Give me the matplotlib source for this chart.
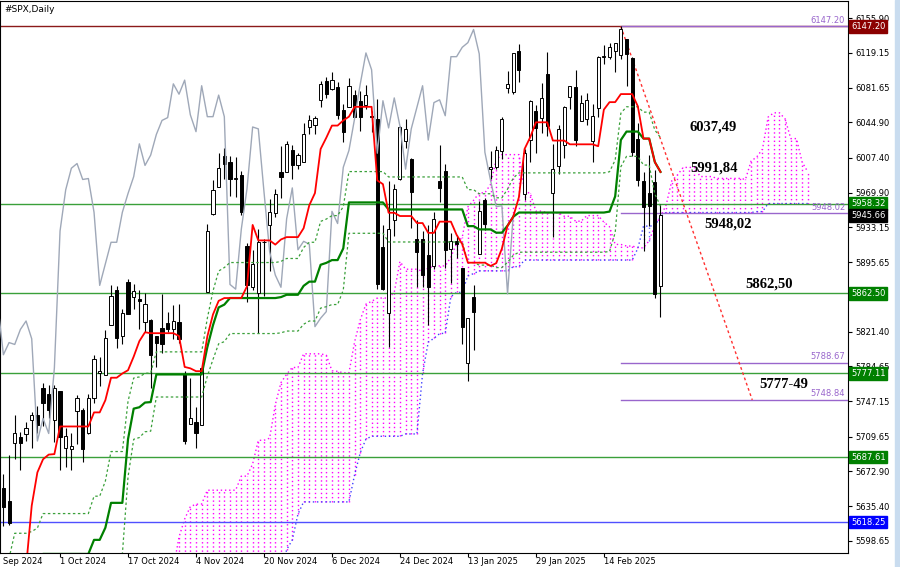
import numpy as np
import pandas as pd
import matplotlib
matplotlib.use("Agg")
import matplotlib.pyplot as plt
from matplotlib.transforms import blended_transform_factory

# daily bars of #SPX, 10 Jul 2024 .. 28 Feb 2025 (CFD also has bars on Sep 2, Nov 28, Jan 9, Jan 20, Feb 17)
opens = [5591, 5635, 5590, 5638, 5644, 5610, 5600, 5543, 5544, 5566, 5505, 5429, 5434, 5477, 5479, 5505,  # Jul
         5537, 5376, 5151, 5206, 5293, 5252, 5312, 5350, 5376, 5442, 5500, 5530, 5557, 5602, 5603, 5637, 5603, 5639, 5602, 5624, 5607, 5612,  # Aug
         5648, 5623, 5506, 5520, 5507, 5442, 5490, 5496, 5558, 5605, 5615, 5655, 5641, 5703, 5709, 5712, 5727, 5733, 5762, 5755, 5727,  # Sep
         5758, 5698, 5696, 5737, 5738, 5714, 5751, 5778, 5775, 5829, 5866, 5817, 5875, 5859, 5857, 5832, 5834, 5817, 5826, 5831, 5824, 5832, 5776,  # Oct
         5723, 5725, 5722, 5864, 5947, 5976, 6009, 6003, 5985, 5989, 5913, 5869, 5863, 5917, 5935, 5948, 5992, 5992, 6015, 5999, 6003,  # Nov
         6040, 6042, 6069, 6089, 6081, 6083, 6058, 6061, 6074, 6068, 6063, 6052, 6048, 5912, 5842, 5941, 5985, 6025, 6006, 5921, 5920,  # Dec
         5903, 5892, 5982, 5993, 5910, 5918, 5890, 5788, 5859, 5905, 5962, 5995, 5997, 6014, 6082, 6077, 6121, 5969, 6026, 6057, 6050, 6096,  # Jan
         5970, 5998, 6021, 6072, 6083, 6046, 6049, 6025, 6060, 6115, 6115, 6121, 6117, 6134, 6114, 6027, 5982, 5970, 5981, 5870]  # Feb
highs = [5635, 5642, 5655, 5667, 5670, 5622, 5614, 5557, 5570, 5585, 5508, 5492, 5488, 5487, 5489, 5551,
         5566, 5383, 5250, 5312, 5330, 5328, 5351, 5372, 5436, 5463, 5546, 5564, 5608, 5620, 5633, 5643, 5641, 5651, 5631, 5628, 5646, 5651,
         5655, 5623, 5552, 5546, 5522, 5484, 5497, 5560, 5600, 5636, 5636, 5670, 5690, 5733, 5715, 5725, 5736, 5742, 5767, 5765, 5765,
         5758, 5719, 5714, 5754, 5740, 5755, 5797, 5795, 5823, 5871, 5870, 5846, 5878, 5872, 5866, 5863, 5835, 5817, 5862, 5843, 5850, 5851, 5780,
         5772, 5741, 5784, 5936, 5983, 6012, 6018, 6009, 6008, 5993, 5916, 5909, 5931, 5921, 5963, 5974, 6020, 6025, 6021, 6012, 6044,
         6053, 6052, 6089, 6093, 6099, 6088, 6065, 6092, 6079, 6078, 6085, 6057, 6070, 5935, 5982, 5979, 6041, 6049, 6007, 5941, 5929,
         5935, 5949, 6021, 6000, 5927, 5925, 5890, 5836, 5871, 5961, 5964, 6014, 6020, 6051, 6100, 6119, 6128, 6017, 6069, 6063, 6087, 6120,
         6022, 6042, 6062, 6084, 6101, 6074, 6076, 6064, 6116, 6127, 6130, 6129, 6147.2, 6134, 6115, 6044, 5992, 6010, 5994, 5958]
lows = [5586, 5576, 5583, 5607, 5637, 5584, 5522, 5497, 5529, 5550, 5419, 5390, 5430, 5444, 5391, 5493,
        5410, 5302, 5119, 5193, 5192, 5250, 5300, 5321, 5376, 5419, 5498, 5530, 5550, 5584, 5591, 5560, 5585, 5602, 5593, 5561, 5583, 5581,
        5638, 5522, 5503, 5486, 5402, 5434, 5442, 5407, 5536, 5601, 5604, 5614, 5615, 5686, 5674, 5705, 5698, 5714, 5721, 5730, 5704,
        5674, 5677, 5674, 5702, 5683, 5712, 5745, 5764, 5775, 5829, 5804, 5808, 5840, 5846, 5824, 5821, 5762, 5784, 5799, 5821, 5814, 5810, 5702,
        5723, 5697, 5722, 5864, 5946, 5976, 5985, 5966, 5965, 5946, 5853, 5866, 5820, 5860, 5886, 5944, 5964, 5992, 5984, 5995, 6003,
        6033, 6033, 6061, 6071, 6079, 6048, 6024, 6061, 6051, 6036, 6059, 6035, 5867, 5866, 5805, 5924, 5983, 6018, 5932, 5869, 5869,
        5829, 5889, 5960, 5890, 5874, 5900, 5809, 5769.44, 5802, 5905, 5930, 5984, 5995, 6006, 6076, 6075, 6088, 5962, 6003, 6012, 6034, 6030,
        5923, 5990, 6007, 6059, 6020, 6046, 6042, 6003, 6051, 6107, 6112, 6099, 6112, 6084, 6009, 5977, 5908, 5934, 5858, 5837]
closes = [5634, 5585, 5615, 5631, 5667, 5588, 5545, 5505, 5564, 5556, 5427, 5399, 5459, 5464, 5436, 5522,
          5447, 5347, 5186, 5240, 5200, 5319, 5344, 5344, 5434, 5455, 5543, 5554, 5608, 5597, 5621, 5571, 5635, 5617, 5626, 5592, 5592, 5648,
          5645, 5529, 5520, 5503, 5408, 5471, 5496, 5554, 5596, 5626, 5633, 5635, 5618, 5714, 5703, 5719, 5733, 5722, 5745, 5738, 5762,
          5709, 5710, 5700, 5751, 5696, 5751, 5792, 5780, 5815, 5860, 5815, 5842, 5841, 5865, 5854, 5851, 5797, 5810, 5808, 5824, 5833, 5814, 5705,
          5729, 5713, 5783, 5929, 5973, 5996, 6001, 5984, 5985, 5949, 5871, 5894, 5917, 5917, 5949, 5969, 5987, 6022, 5999, 6010, 6032,
          6047, 6050, 6086, 6075, 6090, 6053, 6035, 6084, 6051, 6051, 6074, 6051, 5872, 5867, 5931, 5974, 6040, 6038, 5971, 5907, 5882,
          5869, 5942, 5975, 5909, 5918, 5915, 5827, 5836, 5843, 5950, 5937, 5997, 6015, 6049, 6086, 6119, 6101, 6012, 6068, 6039, 6071, 6041,
          5995, 6038, 6061, 6084, 6026, 6066, 6069, 6052, 6115, 6115, 6125, 6130, 6144, 6118, 6013, 5983, 5955, 5956, 5862, 5945.66]

# levels drawn on the chart
green_levels = [5958.32, 5862.50, 5777.11, 5687.61]
blue_level = 5618.25
high_level = 6147.20
purple_levels = [6147.20, 5948.02, 5788.67, 5748.84]
trend_price = [6147.20, 5748.84]
notes = ["6037,49", "5991,84", "5948,02", "5862,50", "5777-49"]
y_ticks = [6155.90, 6119.15, 6081.65, 6044.90, 6007.40, 5969.90, 5933.15, 5895.65,
           5821.40, 5784.65, 5747.15, 5709.65, 5672.90, 5635.40, 5598.65]
axis_boxes = [(6147.20, "#8B0000"), (5958.32, "#008000"), (5945.66, "#000000"), (5862.50, "#008000"),
              (5777.11, "#008000"), (5687.61, "#008000"), (5618.25, "#0000FF")]

dates = pd.bdate_range("2024-07-10", "2025-02-28")
dates = dates[~dates.isin(pd.to_datetime(["2024-12-25", "2025-01-01"]))]
df = pd.DataFrame({"o": opens, "h": highs, "l": lows, "c": closes}, index=dates)
x0 = df.index.get_loc(pd.Timestamp("2024-10-01"))
x = np.arange(len(df)) - x0

hi, lo = df.h, df.l
def mid(n):
    return (hi.rolling(n).max() + lo.rolling(n).min()) / 2
tenkan = mid(9)
kijun = mid(26)
span_a = ((tenkan + kijun) / 2).values
span_b = mid(52).values
h26 = hi.rolling(26).max()
l26 = lo.rolling(26).min()
fib_lo = l26 + 0.382 * (h26 - l26)
fib_hi = l26 + 0.618 * (h26 - l26)

fig = plt.figure(figsize=(9, 5.67), dpi=100)
ax = fig.add_axes([0, 14 / 567, 848 / 900, 552 / 567])
ax.set_xlim(-10.6, 139.1)
ax.set_ylim(5585.5, 6174.4)

# kumo
xs = x + 26
ok = ~np.isnan(span_a) & ~np.isnan(span_b)
up = ok & (span_a >= span_b)
dn = ok & (span_a < span_b)
ax.vlines(xs[up], span_b[up], span_a[up], colors="#FF00FF", lw=1.0, linestyles=(0, (1, 2)), zorder=1)
ax.vlines(xs[dn], span_a[dn], span_b[dn], colors="#6A6AFF", lw=1.0, linestyles=(0, (1, 2)), zorder=1)
ax.plot(xs, span_a, color="#FF00FF", lw=1.0, ls=(0, (1, 2)), zorder=2)
ax.plot(xs, span_b, color="#4040FF", lw=1.0, ls=(0, (1, 2)), zorder=2)

# horizontal levels
ax.axhline(high_level, color="#8B1A1A", lw=1, zorder=2)
for g in green_levels:
    ax.axhline(g, color="#3AA03A", lw=1, zorder=2)
ax.axhline(blue_level, color="#5050FF", lw=1, zorder=2)
for p in purple_levels:
    ax.plot([99, 139.1], [p, p], color="#9966CC", lw=1, zorder=3)
    ax.text(138.6, p + 1.5, f"{p:.2f}", color="#9966CC", fontsize=6, ha="right", va="bottom", zorder=6)
ax.plot([99, 122.2], trend_price, color="#FF3030", lw=1, ls=(0, (2, 2)), zorder=3)

# candles
o, h, l, c = df.o.values, df.h.values, df.l.values, df.c.values
ax.vlines(x, l, h, colors="black", lw=0.8, zorder=3)
bull = c >= o
ax.bar(x[bull], np.maximum(c - o, 0.6)[bull], bottom=o[bull], width=0.55,
       color="white", edgecolor="black", lw=0.7, zorder=4)
ax.bar(x[~bull], (o - c)[~bull], bottom=c[~bull], width=0.55,
       color="black", edgecolor="black", lw=0.7, zorder=4)

# ichimoku lines
ax.plot(x - 26, df.c.values, color="#9FA8B8", lw=1.0, zorder=5)
ax.plot(x, fib_hi.values, color="#3AA03A", lw=0.9, ls=(0, (2, 2)), zorder=5)
ax.plot(x, fib_lo.values, color="#3AA03A", lw=0.9, ls=(0, (2, 2)), zorder=5)
ax.plot(x, kijun.values, color="#008000", lw=1.6, zorder=6)
ax.plot(x, tenkan.values, color="#FF0000", lw=1.3, zorder=6)

# notes
tf = dict(fontsize=10.5, fontweight="bold", family="Liberation Serif", va="center", ha="left", zorder=7)
ax.text(111.2, 6040.0, notes[0], **tf)
ax.text(111.2, 5996.2, notes[1], **tf)
ax.text(113.8, 5936.5, notes[2], **tf)
ax.text(120.9, 5872.5, notes[3], **tf)
ax.text(123.5, 5764.8, notes[4], **tf)
ax.text(0.005, 0.993, "#SPX,Daily", transform=ax.transAxes, fontsize=6.5, va="top", ha="left")

# right price axis
ax.yaxis.tick_right()
ax.set_yticks(y_ticks)
ax.set_yticklabels([f"{v:.2f}" for v in y_ticks])
ax.tick_params(axis="y", labelsize=6, length=3, pad=2)
tr = blended_transform_factory(ax.transAxes, ax.transData)
for val, col in axis_boxes:
    ax.text(1.0 + 3 / 848, val, f"{val:.2f}", transform=tr, fontsize=6, color="white", ha="left", va="center",
            bbox=dict(boxstyle="square,pad=0.2", fc=col, ec=col), zorder=10)

# time axis: label every 12 bars, left aligned at the tick
tick_pos = np.arange(-12, 100, 12)
ax.set_xticks(tick_pos[tick_pos >= -10])
ax.set_xticklabels([])
ax.tick_params(axis="x", length=3)
trx = blended_transform_factory(ax.transData, ax.transAxes)
for t in tick_pos:
    d = df.index[t + x0]
    label = f"{d.day} {d:%b %Y}"
    if t < -10:
        # the first label is cut by the left edge, only its month shows
        ax.text(0.004, -0.007, f"{d:%b %Y}", transform=ax.transAxes, fontsize=6, ha="left", va="top")
    else:
        ax.text(t, -0.007, label, transform=trx, fontsize=6, ha="left", va="top", clip_on=False)

for s in ax.spines.values():
    s.set_color("black")
    s.set_linewidth(0.8)

fig.patches.append(plt.Rectangle((895 / 900, 0), 5 / 900, 1, transform=fig.transFigure,
                                 color="#C9DCEF", zorder=0))
fig.savefig("out.png", dpi=100)
